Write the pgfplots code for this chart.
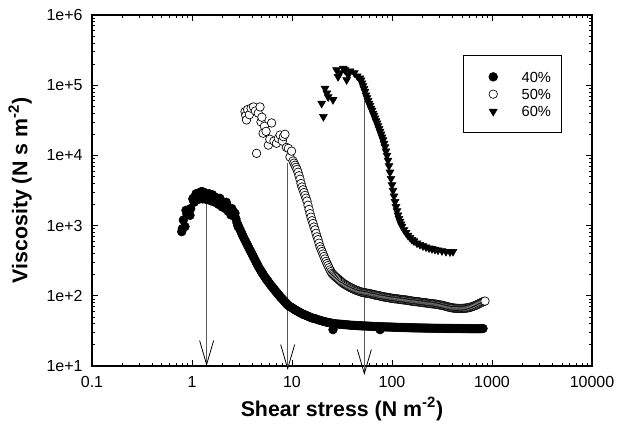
\documentclass[border=0pt]{standalone}
\usepackage{pgfplots}
\pgfplotsset{compat=1.18}
\usepackage{fontspec}
\setmainfont{Liberation Sans}
\usetikzlibrary{arrows.meta}
\begin{document}
\begin{tikzpicture}
\begin{axis}[
  xmode=log, ymode=log,
  scale only axis, width=375pt, height=263.25pt,
  xmin=0.1, xmax=10000, ymin=10, ymax=1000000,
  xtick={0.1,1,10,100,1000,10000},
  xticklabels={0.1,1,10,100,1000,10000},
  ytick={10,100,1000,10000,100000,1000000},
  yticklabels={1e+1,1e+2,1e+3,1e+4,1e+5,1e+6},
  minor xtick={0.2,0.3,0.4,0.5,0.6,0.7,0.8,0.9,2,3,4,5,6,7,8,9,20,30,40,50,60,70,80,90,200,300,400,500,600,700,800,900,2000,3000,4000,5000,6000,7000,8000,9000},
  minor ytick={20,30,40,50,60,70,80,90,200,300,400,500,600,700,800,900,2000,3000,4000,5000,6000,7000,8000,9000,20000,30000,40000,50000,60000,70000,80000,90000,200000,300000,400000,500000,600000,700000,800000,900000},
  xtick pos=both, ytick pos=both,
  tick align=inside,
  major tick length=4.5pt, minor tick length=2.6pt,
  every tick/.style={black, line width=0.6pt},
  axis line style={line width=0.8pt},
  tick label style={font=\fontsize{12}{14}\selectfont},
  xticklabel style={yshift=-4pt},
  yticklabel style={xshift=-3.5pt},
  every axis x label/.style={at={(axis description cs:0.5,-0.0883)}, anchor=north, inner sep=0pt, font=\fontsize{16}{18}\selectfont\bfseries},
  every axis y label/.style={at={(axis description cs:-0.12,0.5)}, rotate=90, anchor=south, inner sep=0pt, font=\fontsize{16}{18}\selectfont\bfseries},
  xlabel={Shear stress (N m\textsuperscript{-2})},
  ylabel={Viscosity (N s m\textsuperscript{-2})},
  clip=false,
  legend cell align=left,
  legend image code/.code={\path[draw=none,fill=none] (0pt,-4pt) -- (20pt,4pt); \draw[#1,only marks] plot coordinates {(14.5pt,0pt)};},
  legend style={at={(0.939,0.886)}, anchor=north east, draw=black, line width=0.75pt, fill=white,
    inner xsep=7.5pt, inner ysep=12pt, row sep=5pt,
    font=\fontsize{11}{11}\selectfont,
    nodes={inner sep=0pt, text height=8pt, text depth=0pt},
    /tikz/every odd column/.append style={column sep=15.8pt}},
]
% arrows
\addplot[black!65, line width=0.6pt, -{Straight Barb[length=18pt,width=10.5pt,line width=0.6pt,color=black]}, forget plot] coordinates {(1.4,2500) (1.4,10)};
\addplot[black!65, line width=0.6pt, -{Straight Barb[length=18pt,width=10.5pt,line width=0.6pt,color=black]}, forget plot] coordinates {(9.05,7800) (9.05,8.77)};
\addplot[black!65, line width=0.6pt, -{Straight Barb[length=18pt,width=10.5pt,line width=0.6pt,color=black]}, forget plot] coordinates {(52.9,65000) (52.9,7.44)};
% 40%
\addplot[only marks, mark=*, mark size=3.3pt, mark options={fill=black, draw=black, line width=0.4pt}] table {
x y
0.79 820
0.80 900
0.82 1200
0.85 970
0.87 1650
0.89 1450
0.92 1500
0.955 1400
0.97 1750
1.02 2400
1.03 2450
1.05 2150
1.07 2550
1.10 2500
1.10 2850
1.12 2700
1.15 2350
1.17 2900
1.20 2600
1.22 3000
1.25 3050
1.27 2850
1.28 2400
1.30 2700
1.30 3000
1.32 2750
1.35 2900
1.38 2700
1.40 2350
1.42 2500
1.45 2650
1.48 2850
1.51 2600
1.55 2750
1.55 2250
1.58 2500
1.60 2750
1.62 2450
1.66 2400
1.70 2550
1.70 2150
1.74 2300
1.78 2400
1.82 2250
1.85 2000
1.86 2300
1.90 2450
1.91 2150
1.95 2250
2.00 2050
2.00 1850
2.05 2100
2.09 1950
2.13 2050
2.15 1750
2.19 1850
2.20 2150
2.24 1900
2.29 1750
2.30 1600
2.35 1800
2.40 1650
2.45 1550
2.45 1420
2.50 1750
2.51 1530
2.57 1600
2.63 1400
2.69 1500
2.75 1250
2.818 1096
2.89 970
2.90 1000
2.985 912
3.073 832
3.162 759
3.256 696
3.350 638
3.447 589
3.548 543
3.652 501
3.758 462
3.868 427
3.981 394
4.097 363
4.217 335
4.340 309
4.467 285
4.597 264
4.732 245
4.870 229
5.012 214
5.158 201
5.309 188
5.464 178
5.623 168
5.788 159
5.957 150
6.131 142
6.310 135
6.494 128
6.683 122
6.879 116
7.079 110
7.287 105
7.499 100
7.718 95.5
7.943 91.2
8.176 87.1
8.414 83.2
8.660 79.5
8.913 75.9
9.173 73.3
9.441 70.8
9.716 69.2
10.00 67.6
10.29 65.7
10.59 63.8
10.90 62.4
11.22 61.0
11.55 59.6
11.89 58.2
12.23 56.9
12.59 55.6
12.96 54.6
13.34 53.7
13.73 52.8
14.13 51.9
14.54 51.0
14.96 50.1
15.40 49.2
15.85 48.4
16.60 47.6
17.38 46.8
18.20 45.7
19.05 44.7
19.95 43.9
20.89 43.2
21.88 42.4
22.91 41.7
24.00 41.2
25.12 40.7
26.30 40.2
27.54 39.8
28.84 39.6
30.20 39.4
31.62 39.2
33.11 38.9
34.67 38.7
36.31 38.5
38.02 38.2
39.81 38.0
41.69 37.9
43.65 37.8
45.71 37.6
47.86 37.5
50.12 37.3
52.48 37.2
54.95 37.1
57.54 37.0
60.26 36.8
63.10 36.7
66.07 36.6
69.18 36.5
72.44 36.4
75.86 36.3
79.43 36.2
83.18 36.1
87.10 36.0
91.20 36.0
95.50 35.9
100 35.8
104.7 35.7
109.6 35.6
114.8 35.5
120.2 35.5
125.9 35.4
131.8 35.3
138.0 35.3
144.5 35.2
151.4 35.1
158.5 35.0
166.0 35.0
173.8 34.9
182.0 34.9
190.5 34.8
199.5 34.8
208.9 34.7
218.8 34.7
229.1 34.6
239.9 34.6
251.2 34.5
263.0 34.5
275.4 34.5
288.4 34.4
302.0 34.4
316.2 34.4
331.1 34.4
346.7 34.3
363.1 34.3
380.2 34.3
398.1 34.3
416.9 34.2
436.5 34.2
457.1 34.2
478.6 34.2
501.2 34.1
524.8 34.1
549.5 34.1
575.4 34.1
602.6 34.0
631.0 34.0
660.7 34.0
691.8 34.0
724.4 34.0
758.6 34.0
794.3 34.1
812.8 34.2
25.7 33.0
76.0 33.0
};
\addlegendentry{40\%}
% 50%
\addplot[only marks, mark=*, mark size=3.2pt, mark options={fill=white, draw=black, line width=0.5pt}] table {
x y
3.39 42000
3.45 37000
3.51 32000
3.60 45000
3.75 38000
3.90 47000
4.12 49000
4.30 43000
4.42 10700
4.60 40000
4.79 49000
4.90 30000
5.00 35000
5.14 20700
5.30 26000
5.50 22000
5.80 14000
6.00 17000
6.25 29000
6.60 16000
7.00 14900
7.30 17500
7.60 19500
8.00 16000
8.20 18500
8.50 20000
8.80 13000
9.20 12600
9.55 9500
9.90 11500
10.23 8318
10.47 7762
10.72 7244
10.96 6761
11.22 6310
11.48 5754
11.75 5129
12.02 4571
12.30 3981
12.59 3548
12.88 3236
13.18 2951
13.49 2692
13.80 2455
14.13 2239
14.45 1950
14.79 1698
15.14 1479
15.49 1318
15.85 1175
16.22 1072
16.60 955
16.98 871
17.38 776
17.78 692
18.20 631
18.62 562
19.05 501
19.50 462
19.95 427
20.42 394
20.89 363
21.38 335
21.88 309
22.39 288
22.91 269
23.44 251
23.99 234
24.55 221
25.12 209
25.70 202
26.30 195
26.92 189
27.54 184
28.18 179
28.84 174
29.51 169
30.20 164.1
30.90 159.6
31.62 154.9
32.36 151.4
33.11 147.9
33.88 145.2
34.67 142.2
35.48 139.6
36.31 137.1
37.15 134.3
38.02 131.8
38.90 129.7
39.81 127.9
40.74 125.9
41.69 123.9
42.66 122.2
43.65 120.2
44.67 118.9
45.71 117.5
46.77 116.1
47.86 114.8
48.98 113.5
50.12 112.2
51.29 111.4
52.48 110.9
53.70 110.2
54.95 109.6
56.23 108.9
57.54 108.4
58.88 107.6
60.26 107.2
61.66 106.2
63.10 105.2
64.57 104.5
66.07 103.5
67.61 102.8
69.18 102.3
70.79 101.6
72.44 101.2
74.13 100.2
75.86 99.3
77.62 98.6
79.43 97.7
81.28 97.1
83.18 96.6
85.11 95.9
87.10 95.5
89.13 94.8
91.20 94.4
93.33 93.8
95.50 93.3
97.72 92.7
100.0 92.3
102.3 91.6
104.7 91.2
107.2 90.8
109.6 90.6
112.2 90.4
114.8 90.2
117.5 89.5
120.2 89.1
123.0 88.5
125.9 88.1
128.8 87.7
131.8 87.5
134.9 87.3
138.0 87.1
141.3 86.5
144.5 86.1
147.9 85.5
151.4 85.1
154.9 84.5
158.5 84.1
162.2 83.6
166.0 83.2
169.8 82.8
173.8 82.6
177.8 82.4
182.0 82.2
186.2 81.7
190.5 81.3
195.0 80.7
199.5 80.4
204.2 80.2
208.9 79.8
213.8 79.6
218.8 79.4
223.9 78.9
229.1 78.5
234.4 78.0
239.9 77.6
245.5 77.4
251.2 77.1
257.0 76.9
263.0 76.7
269.2 76.2
275.4 75.9
281.8 75.3
288.4 75.0
295.1 74.5
302.0 74.1
309.0 73.6
316.2 73.3
323.6 72.6
331.1 71.9
338.8 71.4
346.7 70.8
354.8 70.1
363.1 69.5
371.5 69.0
380.2 68.4
389.0 67.9
398.1 67.6
407.4 67.1
416.9 66.8
426.6 66.5
436.5 66.4
446.7 66.2
457.1 66.1
467.7 66.1
478.6 66.1
489.8 66.1
501.2 66.1
512.9 66.2
524.8 66.4
537.0 66.5
549.5 66.8
562.3 67.1
575.4 67.6
588.8 67.9
602.6 68.4
616.6 69.2
631.0 70.0
645.7 70.8
660.7 71.6
676.1 72.6
691.8 73.6
707.9 74.6
724.4 75.9
741.3 77.3
758.6 78.5
776.2 79.8
794.3 81.3
812.8 82.2
831.8 83.2
851.1 84.1
};
\addlegendentry{50\%}
% 60%
\addplot[only marks, mark=triangle*, mark size=3.4pt, mark options={rotate=180, fill=black, draw=black, line width=0.4pt}] table {
x y
19.8 55000
20.6 35600
21.4 90000
22.3 77000
23.0 68000
25.7 62000
27.9 165000
28.9 132000
30.2 150000
32.6 174000
33.9 165000
35.2 119000
36.5 140000
38.0 158000
42.0 150000
45.0 135000
47.86 125900
48.98 117500
50.12 107200
51.29 97700
52.48 89100
53.70 81300
54.95 72400
56.23 66100
57.54 60300
58.88 55000
60.26 51300
61.66 46800
63.10 43700
64.57 39800
66.07 37200
67.61 33900
69.18 30900
70.79 28800
72.44 26300
74.13 24000
75.86 21900
77.62 20000
79.43 18200
81.28 16600
83.18 14800
85.11 13200
87.10 11500
89.13 10000
91.20 8510
93.33 7080
95.50 5750
97.72 4680
100.0 3800
102.3 3160
104.7 2630
107.2 2190
109.6 1860
112.2 1620
114.8 1410
117.5 1260
120.2 1150
123.0 1050
125.9 977
131.8 871
138.0 794
144.5 724
151.4 676
158.5 631
166.0 603
177.8 562
190.5 537
204.2 513
218.8 495
234.4 479
251.2 468
269.2 457
288.4 447
316.2 437
346.7 427
380.2 422
407.4 427
};
\addlegendentry{60\%}
\end{axis}
\path (current axis.south west) ++(-69pt,-47.25pt) rectangle ++(465pt,321.75pt);
\end{tikzpicture}
\end{document}
